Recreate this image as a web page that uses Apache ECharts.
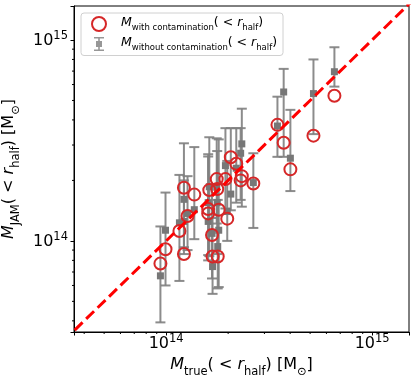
<!DOCTYPE html>
<html>
<head>
<meta charset="utf-8">
<script src="https://cdn.jsdelivr.net/npm/echarts@6/dist/echarts.min.js"></script>
<style>
  html, body { margin: 0; padding: 0; background: #fff; }
  #chart { width: 415px; height: 382px; }
</style>
</head>
<body>
<div id="chart"></div>
<script>
// true mass inside r_half (x), one entry per cluster
const massTrue = [6.56e14, 5.19e14, 3.47e14, 3.72e14, 4.01e14, 2.65e14, 2.06e14, 2.19e14, 2.33e14, 2.30e14,
  1.94e14, 1.76e14, 1.77e14, 1.62e14, 1.80e14, 1.60e14, 1.60e14, 1.98e14, 1.67e14, 1.68e14,
  1.78e14, 1.22e14, 1.37e14, 1.27e14, 1.16e14, 1.22e14, 0.993e14, 0.938e14]
// JAM mass with contamination (open red circles)
const massWith = [5.28e14, 3.34e14, 3.78e14, 3.08e14, 2.27e14, 1.93e14, 2.61e14, 2.42e14, 2.10e14, 2.00e14,
  2.03e14, 2.03e14, 1.81e14, 1.79e14, 1.43e14, 1.44e14, 1.37e14, 1.29e14, 1.07e14, 0.836e14,
  0.836e14, 1.84e14, 1.70e14, 1.33e14, 1.12e14, 0.861e14, 0.909e14, 0.771e14]
// JAM mass without contamination (grey squares) and its error range
const massWithout = [6.95e14, 5.41e14, 3.73e14, 5.51e14, 2.58e14, 1.95e14, 1.71e14, 2.30e14, 3.04e14, 2.73e14,
  2.37e14, 1.85e14, 1.55e14, 1.86e14, 1.13e14, 1.55e14, 1.25e14, 1.40e14, 1.09e14, 0.745e14,
  0.937e14, 1.61e14, 1.43e14, 1.37e14, 1.23e14, 1.25e14, 1.13e14, 0.67e14]
const errLow = [5.86e14, 3.4e14, 2.62e14, 2.62e14, 1.77e14, 1.16e14, 1.42e14, 1.55e14, 1.48e14, 1.60e14,
  1.45e14, 1.22e14, 0.86e14, 0.84e14, 0.589e14, 0.80e14, 0.85e14, 1.00e14, 0.65e14, 0.545e14,
  0.58e14, 0.93e14, 1.02e14, 0.90e14, 0.632e14, 0.86e14, 0.60e14, 0.393e14]
const errHigh = [9.2e14, 8.0e14, 5.22e14, 7.18e14, 4.49e14, 2.73e14, 3.64e14, 3.64e14, 4.55e14, 3.64e14,
  3.64e14, 3.24e14, 2.80e14, 3.28e14, 3.20e14, 2.70e14, 2.63e14, 2.50e14, 1.90e14, 1.30e14,
  1.60e14, 3.06e14, 2.93e14, 2.10e14, 2.13e14, 2.00e14, 1.74e14, 1.18e14]
// one-to-one line
const oneToOne = [[1e13, 1e13], [1e16, 1e16]]

const xMin = 3.57e13, xMax = 1.51e15
const yMin = 3.52e13, yMax = 1.476e15

// matplotlib style minor ticks at 2..9 x 10^n
function minorTicks(lo, hi) {
  const out = []
  for (let d = 12; d <= 16; d++) {
    for (let k = 2; k <= 9; k++) {
      const v = k * Math.pow(10, d)
      if (v > lo && v < hi) out.push(v)
    }
  }
  return out
}
const xMinor = minorTicks(xMin, xMax)
const yMinor = minorTicks(yMin, yMax)

const FONT = 'DejaVu Sans'
const RED = '#d62728'
const GREY = '#808080'

function tickLabel(v) {
  const e = Math.log10(v)
  if (Math.abs(e - Math.round(e)) > 1e-6) return ''
  return '{b|10}{sup|' + Math.round(e) + '}'
}
const tickRich = {
  b: { fontSize: 16, fontFamily: FONT, color: '#000', lineHeight: 20, verticalAlign: 'top', padding: [3, 0, 0, 0] },
  sup: { fontSize: 11.5, fontFamily: FONT, color: '#000', lineHeight: 13, verticalAlign: 'top' }
}
const nameRich = {
  n: { fontSize: 16, fontFamily: FONT, color: '#000', lineHeight: 20, verticalAlign: 'top' },
  it: { fontSize: 16, fontFamily: FONT, color: '#000', lineHeight: 20, verticalAlign: 'top', fontStyle: 'italic' },
  sub: { fontSize: 11.5, fontFamily: FONT, color: '#000', lineHeight: 12, verticalAlign: 'top', padding: [9, 0, 0, 0] }
}
const legendRich = {
  pad: { width: 10, lineHeight: 15 },
  it: { fontSize: 12.5, fontFamily: FONT, color: '#000', lineHeight: 15, verticalAlign: 'top', fontStyle: 'italic' },
  n: { fontSize: 12.5, fontFamily: FONT, color: '#000', lineHeight: 15, verticalAlign: 'top' },
  sub: { fontSize: 8.5, fontFamily: FONT, color: '#000', lineHeight: 9, verticalAlign: 'top', padding: [7, 0, 0, 0] }
}

const chart = echarts.init(document.getElementById('chart'))

function errorBar(params, api) {
  const x = api.value(0)
  const lo = api.coord([x, api.value(1)])
  const hi = api.coord([x, api.value(2)])
  const style = { stroke: GREY, lineWidth: 2, opacity: 0.9 }
  return {
    type: 'group',
    children: [
      { type: 'line', shape: { x1: lo[0], y1: lo[1], x2: hi[0], y2: hi[1] }, style },
      { type: 'line', shape: { x1: lo[0] - 5, y1: lo[1], x2: lo[0] + 5, y2: lo[1] }, style },
      { type: 'line', shape: { x1: hi[0] - 5, y1: hi[1], x2: hi[0] + 5, y2: hi[1] }, style }
    ]
  }
}
function xMinorTick(params, api) {
  const p = api.coord([api.value(0), api.value(1)])
  return { type: 'line', shape: { x1: p[0], y1: p[1], x2: p[0], y2: p[1] + 2 }, style: { stroke: '#000', lineWidth: 1 } }
}
function yMinorTick(params, api) {
  const p = api.coord([api.value(0), api.value(1)])
  return { type: 'line', shape: { x1: p[0], y1: p[1], x2: p[0] - 2, y2: p[1] }, style: { stroke: '#000', lineWidth: 1 } }
}

const option = {
  animation: false,
  backgroundColor: '#fff',
  grid: {
    left: 74, right: 6, top: 6, bottom: 50,
    outerBoundsMode: 'none',
    show: true, borderColor: '#000', borderWidth: 1
  },
  legend: {
    left: 81, top: 13,
    orient: 'vertical',
    padding: [3, 6, 3, 10],
    itemWidth: 14, itemHeight: 14,
    itemGap: 4,
    itemTextGap: 6,
    backgroundColor: 'rgba(255,255,255,0.8)',
    borderColor: '#d0d0d0', borderWidth: 1, borderRadius: 3,
    selectedMode: false,
    data: [
      { name: 'with', icon: 'circle', itemStyle: { color: 'rgba(0,0,0,0)', borderColor: RED, borderWidth: 2, opacity: 1 } },
      { name: 'without', icon: 'path://M2,0H12V1.5H2Z M6.2,0H7.8V14H6.2Z M2,12.5H12V14H2Z M4,4H10V10H4Z',
        itemStyle: { color: '#8c8c8c', opacity: 0.9 } }
    ],
    formatter: function (name) {
      const label = name === 'with' ? 'with contamination' : 'without contamination'
      return '{pad|}{it|M}{sub|' + label + '}{n|( < }{it|r}{sub|half}{n|)}'
    },
    textStyle: { rich: legendRich }
  },
  xAxis: {
    type: 'log', logBase: 10, min: xMin, max: xMax,
    splitLine: { show: false },
    axisLine: { show: true, onZero: false, lineStyle: { color: '#000', width: 1 } },
    axisTick: { show: true, inside: false, length: 3.5, lineStyle: { color: '#000' } },
    axisLabel: { formatter: tickLabel, rich: tickRich, margin: 1 },
    name: '{it|M}{sub|true}{n|( < }{it|r}{sub|half}{n|) [M}{sub|⊙}{n|]}',
    nameLocation: 'middle', nameGap: 25,
    nameTextStyle: { rich: nameRich }
  },
  yAxis: {
    type: 'log', logBase: 10, min: yMin, max: yMax,
    splitLine: { show: false },
    axisLine: { show: true, onZero: false, lineStyle: { color: '#000', width: 1 } },
    axisTick: { show: true, inside: false, length: 3.5, lineStyle: { color: '#000' } },
    axisLabel: { formatter: tickLabel, rich: tickRich, margin: 6 },
    name: '{it|M}{sub|JAM}{n|( < }{it|r}{sub|half}{n|) [M}{sub|⊙}{n|]}',
    nameLocation: 'middle', nameGap: 50,
    nameTextStyle: { rich: nameRich }
  },
  series: [
    {
      type: 'custom', name: 'errbar', silent: true, z: 2,
      renderItem: errorBar,
      encode: { x: 0, y: [1, 2] },
      data: massTrue.map((x, i) => [x, errLow[i], errHigh[i]])
    },
    {
      type: 'scatter', name: 'without', z: 3, silent: true,
      symbol: 'rect', symbolSize: 7,
      itemStyle: { color: '#777777', opacity: 1 },
      data: massTrue.map((x, i) => [x, massWithout[i]])
    },
    {
      type: 'scatter', name: 'with', z: 4, silent: true,
      symbol: 'circle', symbolSize: 12,
      itemStyle: { color: 'rgba(0,0,0,0)', borderColor: RED, borderWidth: 2, opacity: 1 },
      data: massTrue.map((x, i) => [x, massWith[i]])
    },
    {
      type: 'line', name: 'one-to-one', z: 5, silent: true,
      symbol: 'none',
      lineStyle: { color: '#ff0000', width: 3, type: [11, 5] },
      data: oneToOne
    },
    {
      type: 'custom', name: 'xminor', silent: true, clip: false,
      renderItem: xMinorTick,
      data: xMinor.map(v => [v, yMin])
    },
    {
      type: 'custom', name: 'yminor', silent: true, clip: false,
      renderItem: yMinorTick,
      data: yMinor.map(v => [xMin, v])
    }
  ]
}
chart.setOption(option)
</script>
</body>
</html>
